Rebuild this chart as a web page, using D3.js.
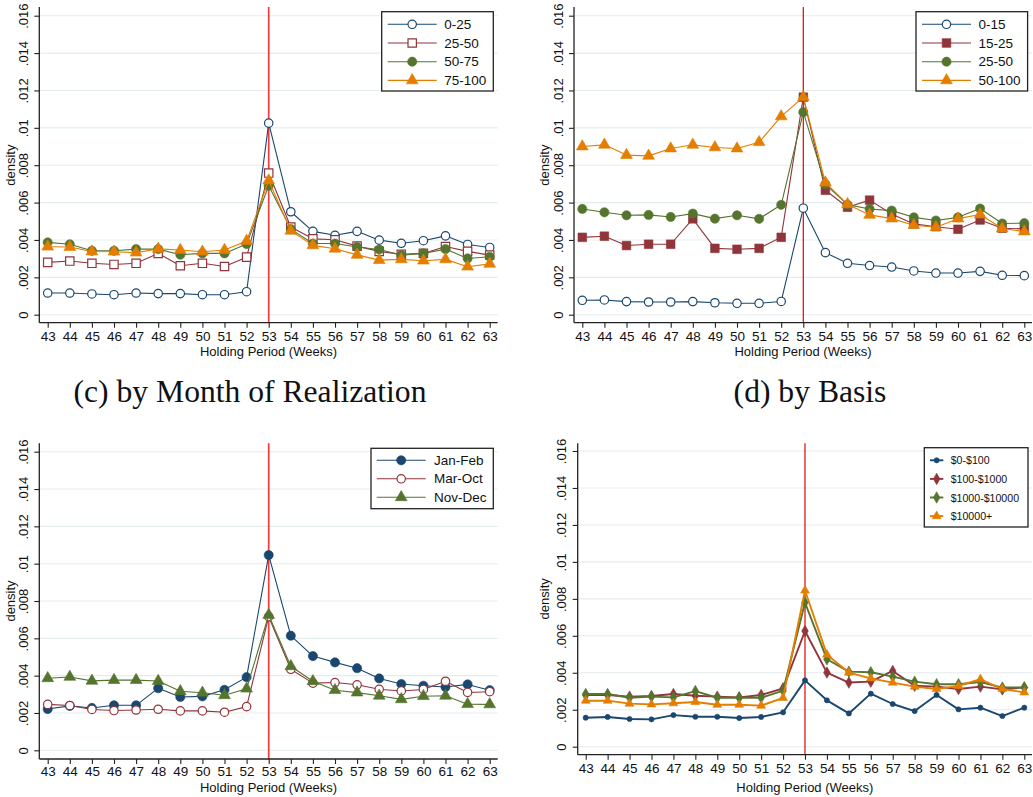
<!DOCTYPE html>
<html>
<head>
<meta charset="utf-8">
<script src="https://cdn.jsdelivr.net/npm/d3@7"></script>
<style>
  body { margin: 0; background: #fff; }
  text { font-family: "Liberation Sans", Arial, sans-serif; fill: #111; }
  .ptitle { font-family: "Liberation Serif", "DejaVu Serif", serif; }
</style>
</head>
<body>
<svg id="fig" width="1033" height="797"></svg>
<script>
// ---- categories and axis ticks ----
const weeks = [43, 44, 45, 46, 47, 48, 49, 50, 51, 52, 53, 54, 55, 56, 57, 58, 59, 60, 61, 62, 63];
const yTicks = [0, 0.002, 0.004, 0.006, 0.008, 0.010, 0.012, 0.014, 0.016];
const yTickLabels = ["0", ".002", ".004", ".006", ".008", ".01", ".012", ".014", ".016"];
const xTitle = "Holding Period (Weeks)";
const yTitle = "density";
const cutoffWeek = 53;

// ---- panel (a): by percentile ----
const aNames = ["0-25", "25-50", "50-75", "75-100"];
const a0_25 = [.00116,.00116,.00111,.00107,.00116,.00113,.00113,.00107,.00107,.00123,.01025,.00551,.00446,.00425,.00446,.00399,.00382,.00396,.00422,.00376,.0036];
const a25_50 = [.0028,.00287,.00275,.00269,.00275,.00328,.00262,.00275,.00258,.00308,.00758,.00469,.00406,.00401,.00367,.00339,.00323,.00328,.00365,.00339,.00319];
const a50_75 = [.00387,.00377,.00342,.00342,.00351,.00351,.00321,.00328,.00328,.00378,.0069,.00458,.00381,.00381,.00362,.00349,.00319,.00328,.00351,.00301,.0031];
const a75_100 = [.00364,.00362,.00338,.00337,.00332,.00352,.00346,.00337,.00346,.00394,.00718,.00449,.00371,.00353,.0032,.00292,.00296,.00289,.00296,.00257,.00272];

// ---- panel (b) ----
const bNames = ["0-15", "15-25", "25-50", "50-100"];
const b0_15 = [.00077,.00079,.0007,.00068,.00068,.0007,.00064,.00061,.00061,.00071,.0057,.00332,.00275,.00263,.00255,.00234,.00223,.00223,.00232,.00211,.00209];
const b15_25 = [.00414,.0042,.0037,.00377,.00377,.00513,.00355,.0035,.00355,.00414,.01164,.00666,.00575,.00613,.00539,.00486,.00471,.00457,.00507,.00463,.00459];
const b25_50 = [.00566,.00548,.00532,.00534,.00523,.00541,.00514,.00532,.00513,.00588,.01084,.00698,.00589,.00566,.00557,.00521,.00504,.00521,.00568,.00488,.0049];
const b50_100 = [.009,.00909,.00854,.0085,.00889,.00909,.00895,.00889,.00923,.01061,.01164,.00707,.00591,.00534,.00514,.00479,.00468,.00514,.00536,.00461,.00445];

// ---- panel (c): by month of realization ----
const cTitle = "(c) by Month of Realization";
const cNames = ["Jan-Feb", "Mar-Oct", "Nov-Dec"];
const cJanFeb = [.00221,.00238,.00227,.00241,.00241,.00333,.00286,.00289,.00324,.00392,.01046,.00614,.00505,.00471,.0044,.00385,.00355,.00346,.00339,.00353,.00322];
const cMarOct = [.00246,.0024,.00219,.00213,.00216,.0022,.00211,.00211,.00204,.00234,.00716,.00434,.0036,.00363,.00351,.00327,.00318,.00326,.0037,.0031,.00314];
const cNovDec = [.00386,.00393,.00372,.00376,.00376,.00371,.00316,.00308,.00295,.0033,.00725,.0045,.0037,.00322,.00309,.00292,.00273,.0029,.00292,.00247,.00246];

// ---- panel (d): by basis ----
const dTitle = "(d) by Basis";
const dNames = ["$0-$100", "$100-$1000", "$1000-$10000", "$10000+"];
const d0_100 = [.00157,.00161,.0015,.00148,.00171,.00162,.00162,.00155,.00161,.00186,.00359,.00251,.0018,.00287,.00231,.00193,.0028,.00202,.00211,.00166,.00211];
const d100_1000 = [.0028,.0028,.00271,.00274,.00285,.00276,.00271,.00267,.0028,.00316,.00626,.00401,.00347,.00352,.0041,.0033,.00325,.00312,.00325,.0031,.00321];
const d1000_10000 = [.00285,.00285,.00265,.00271,.00267,.00301,.00265,.00265,.00265,.00303,.0078,.00473,.00406,.00403,.00379,.00352,.00338,.00338,.0035,.0032,.0032];
const d10000p = [.00249,.00249,.00233,.00229,.00235,.00242,.00227,.00227,.00222,.00264,.00845,.00498,.00401,.0037,.00347,.00325,.00312,.00329,.00365,.00312,.00294];

// ---- styling ----
const NAVY = "#1a476f", MAROON = "#90353b", GREEN = "#55752f", ORANGE = "#e37e00";
const svg = d3.select("#fig");

// marker factory: returns a function drawing a marker into a selection at (x,y)
function drawMarker(g, x, y, m) {
  if (m.shape === "circle") {
    g.append("circle").attr("cx", x).attr("cy", y).attr("r", m.r)
      .attr("fill", m.hollow ? "#fff" : m.color)
      .attr("stroke", m.color).attr("stroke-width", m.hollow ? 1.2 : 0.6);
  } else {
    const type = { square: d3.symbolSquare, triangle: d3.symbolTriangle, diamond: d3.symbolDiamond }[m.shape];
    g.append("path").attr("d", d3.symbol(type, m.size)())
      .attr("transform", `translate(${x},${y + (m.shape === "triangle" ? m.dy || 0 : 0)})`)
      .attr("fill", m.hollow ? "#fff" : m.color)
      .attr("stroke", m.color).attr("stroke-width", m.hollow ? 1.2 : 0.6);
  }
}

function drawPanel(p) {
  const g = svg.append("g");
  const x = d3.scaleLinear().domain([weeks[0], weeks[weeks.length - 1]]).range([p.x0, p.x1]);
  const y = d3.scaleLinear().domain([0, 0.016]).range([p.y0, p.y16]);

  // horizontal gridlines
  g.selectAll("line.grid").data(yTicks).join("line")
    .attr("x1", p.axisX + 1).attr("x2", p.right)
    .attr("y1", d => y(d)).attr("y2", d => y(d))
    .attr("stroke", "#e4eded").attr("stroke-width", 1.1);

  // vertical reference line at week 53
  g.append("line")
    .attr("x1", x(cutoffWeek)).attr("x2", x(cutoffWeek))
    .attr("y1", p.top).attr("y2", p.axisY)
    .attr("stroke", p.refColor).attr("stroke-width", p.refWidth);

  // series
  p.series.forEach(s => {
    const line = d3.line().x((d, i) => x(weeks[i])).y(d => y(d));
    g.append("path").datum(s.values).attr("d", line)
      .attr("fill", "none").attr("stroke", s.marker.color)
      .attr("stroke-width", p.lineWidth).attr("stroke-linejoin", "round");
    const mg = g.append("g");
    s.values.forEach((v, i) => drawMarker(mg, x(weeks[i]), y(v), s.marker));
  });

  // y axis
  const yAxis = d3.axisLeft(y).tickValues(yTicks).tickSize(5).tickFormat((d, i) => yTickLabels[i]);
  const ya = g.append("g").attr("transform", `translate(${p.axisX},0)`).call(yAxis);
  ya.select(".domain").attr("d", `M0,${p.top}V${p.axisY}`).attr("stroke", "#222").attr("stroke-width", 1.3);
  ya.selectAll(".tick line").attr("stroke", "#222").attr("stroke-width", 1.1);
  ya.selectAll(".tick text")
    .attr("x", null).attr("dy", null)
    .attr("transform", d => `translate(${p.yLabelX - p.axisX},0) rotate(-90)`)
    .attr("text-anchor", "middle").attr("dominant-baseline", "central")
    .style("font-size", "13px").attr("fill", "#111");

  // x axis
  const xAxis = d3.axisBottom(x).tickValues(weeks).tickSize(5).tickFormat(d3.format("d"));
  const xa = g.append("g").attr("transform", `translate(0,${p.axisY})`).call(xAxis);
  xa.select(".domain").attr("d", `M${p.axisX},0H${p.right}`).attr("stroke", "#222").attr("stroke-width", 1.3);
  xa.selectAll(".tick line").attr("stroke", "#222").attr("stroke-width", 1.1);
  xa.selectAll(".tick text").attr("y", p.xLabelY - p.axisY).attr("dy", null)
    .attr("dominant-baseline", "central").style("font-size", "13.5px").attr("fill", "#111");

  // axis titles
  g.append("text").attr("x", (p.axisX + p.right) / 2).attr("y", p.xTitleY)
    .attr("text-anchor", "middle").attr("dominant-baseline", "central")
    .style("font-size", "13px").text(xTitle);
  g.append("text").attr("transform", `translate(${p.yTitleX},${y(0.008)}) rotate(-90)`)
    .attr("text-anchor", "middle").attr("dominant-baseline", "central")
    .style("font-size", "13px").text(yTitle);

  // legend
  const L = p.legend;
  const lg = g.append("g");
  lg.append("rect").attr("x", L.x).attr("y", L.y).attr("width", L.w).attr("height", L.h)
    .attr("fill", "#fff").attr("stroke", "#222").attr("stroke-width", 1.3);
  p.series.forEach((s, i) => {
    const cy = L.y + L.first + i * L.step;
    lg.append("line").attr("x1", L.x + L.l0).attr("x2", L.x + L.l1).attr("y1", cy).attr("y2", cy)
      .attr("stroke", s.marker.color).attr("stroke-width", p.lineWidth);
    drawMarker(lg, L.x + (L.l0 + L.l1) / 2, cy, s.marker);
    lg.append("text").attr("x", L.x + L.tx).attr("y", cy).attr("dominant-baseline", "central")
      .style("font-size", L.font + "px").text(s.name);
  });
}

const legend4 = { y: 11.7, w: 111.6, h: 79.3, first: 12.6, step: 18.7, l0: 6, l1: 55, tx: 62.6, font: 13.5 };

// panel (a)
drawPanel({
  x0: 47.7, x1: 489.7, y0: 314.7, y16: 15.7, axisX: 39.3, axisY: 322.7, top: 7, right: 497.7,
  yLabelX: 23.3, xLabelY: 336.7, xTitleY: 351.7, yTitleX: 10,
  refColor: "#f63b3b", refWidth: 1.7, lineWidth: 1.1,
  legend: Object.assign({ x: 381.7 }, legend4),
  series: [
    { name: aNames[0], values: a0_25, marker: { shape: "circle", r: 4.2, hollow: true, color: NAVY } },
    { name: aNames[1], values: a25_50, marker: { shape: "square", size: 70, hollow: true, color: MAROON } },
    { name: aNames[2], values: a50_75, marker: { shape: "circle", r: 4.6, hollow: false, color: GREEN } },
    { name: aNames[3], values: a75_100, marker: { shape: "triangle", size: 60, hollow: false, color: ORANGE } }
  ]
});

// panel (b)
drawPanel({
  x0: 582.3, x1: 1024.3, y0: 314.7, y16: 15.7, axisX: 574, axisY: 322.7, top: 7, right: 1032,
  yLabelX: 558.3, xLabelY: 336.7, xTitleY: 351.7, yTitleX: 544.3,
  refColor: "#e80000", refWidth: 1.2, lineWidth: 1.1,
  legend: Object.assign({ x: 916 }, legend4),
  series: [
    { name: bNames[0], values: b0_15, marker: { shape: "circle", r: 4.2, hollow: true, color: NAVY } },
    { name: bNames[1], values: b15_25, marker: { shape: "square", size: 75, hollow: false, color: MAROON } },
    { name: bNames[2], values: b25_50, marker: { shape: "circle", r: 4.6, hollow: false, color: GREEN } },
    { name: bNames[3], values: b50_100, marker: { shape: "triangle", size: 60, hollow: false, color: ORANGE } }
  ]
});

// panel (c)
drawPanel({
  x0: 47.7, x1: 489.7, y0: 750.3, y16: 451.7, axisX: 39.3, axisY: 759, top: 443.3, right: 497.7,
  yLabelX: 23.3, xLabelY: 771.7, xTitleY: 787.3, yTitleX: 10,
  refColor: "#f63b3b", refWidth: 1.7, lineWidth: 1.1,
  legend: { x: 371, y: 48.3 + 400, w: 122.3, h: 60.4, first: 12, step: 18.5, l0: 5.7, l1: 54.7, tx: 63, font: 13.5 },
  series: [
    { name: cNames[0], values: cJanFeb, marker: { shape: "circle", r: 4.6, hollow: false, color: NAVY } },
    { name: cNames[1], values: cMarOct, marker: { shape: "circle", r: 4.2, hollow: true, color: MAROON } },
    { name: cNames[2], values: cNovDec, marker: { shape: "triangle", size: 60, hollow: false, color: GREEN } }
  ]
});

// panel (d)
drawPanel({
  x0: 585.7, x1: 1024.3, y0: 746.7, y16: 451, axisX: 577.7, axisY: 754.7, top: 443.3, right: 1032,
  yLabelX: 561.7, xLabelY: 769, xTitleY: 787.7, yTitleX: 544.3,
  refColor: "#e80000", refWidth: 1.2, lineWidth: 1.9,
  legend: { x: 924.3, y: 447.7, w: 103.7, h: 79.3, first: 12.6, step: 18.6, l0: 5.7, l1: 19, tx: 26.4, font: 10.6 },
  series: [
    { name: dNames[0], values: d0_100, marker: { shape: "circle", r: 2.6, hollow: false, color: NAVY } },
    { name: dNames[1], values: d100_1000, marker: { shape: "diamond", size: 38, hollow: false, color: MAROON } },
    { name: dNames[2], values: d1000_10000, marker: { shape: "diamond", size: 38, hollow: false, color: GREEN } },
    { name: dNames[3], values: d10000p, marker: { shape: "triangle", size: 34, hollow: false, color: ORANGE } }
  ]
});

// panel captions (serif), fitted to their measured width
const capC = svg.append("text").attr("class", "ptitle").attr("x", 250).attr("y", 402)
  .attr("text-anchor", "middle").style("font-size", "28px").text(cTitle);
const wC = capC.node().getComputedTextLength();
const capSize = 28 * 353 / wC;
capC.style("font-size", capSize + "px");
svg.append("text").attr("class", "ptitle").attr("x", 810).attr("y", 402)
  .attr("text-anchor", "middle").style("font-size", capSize + "px").text(dTitle);
</script>
</body>
</html>
